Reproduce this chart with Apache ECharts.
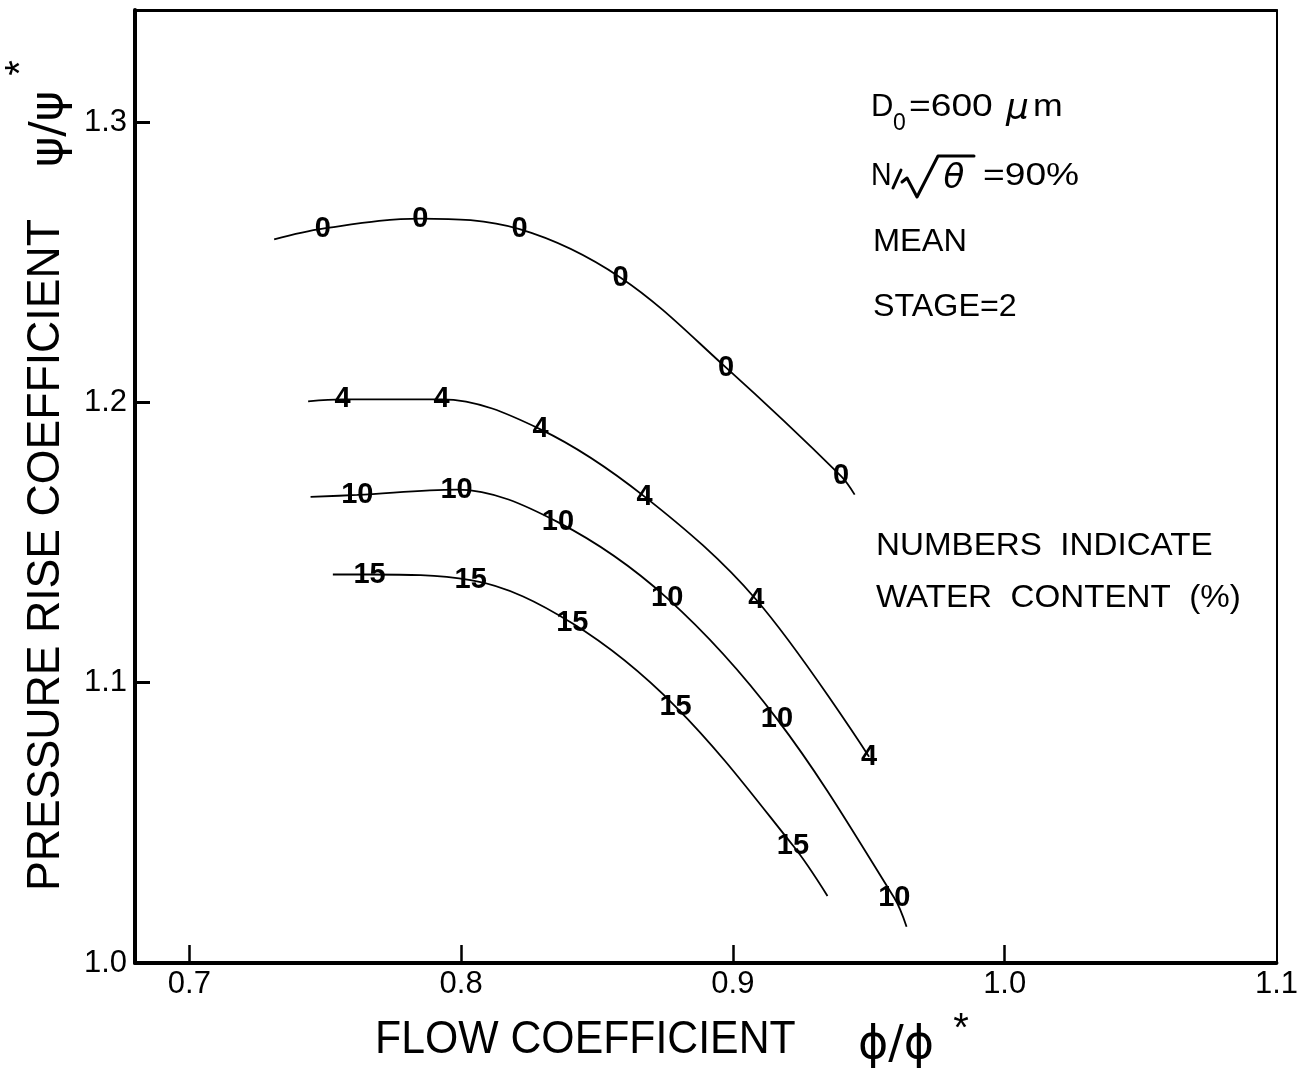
<!DOCTYPE html>
<html>
<head>
<meta charset="utf-8">
<script src="https://cdn.jsdelivr.net/npm/echarts@6/dist/echarts.min.js"></script>
<style>
html,body{margin:0;padding:0;background:#fff;}
#chart{width:1301px;height:1071px;}
</style>
</head>
<body>
<div id="chart"></div>
<script>
// ---- data ----
const xTickValues = [0.7, 0.8, 0.9, 1.0];
const xLabelValues = [0.7, 0.8, 0.9, 1.0, 1.1];
const yTickValues = [1.1, 1.2, 1.3];
const yLabelValues = [1.0, 1.1, 1.2, 1.3];
const waterContents = ['0', '4', '10', '15'];

// measured points (the number labels sit on these)
const points0  = [[0.7491,1.2620],[0.7850,1.2656],[0.8215,1.2618],[0.8587,1.2445],[0.8975,1.2124],[0.9398,1.1737]];
const points4  = [[0.7564,1.2011],[0.7928,1.2011],[0.8292,1.1904],[0.8675,1.1664],[0.9086,1.1296],[0.9501,1.0736]];
const points10 = [[0.7618,1.1670],[0.7983,1.1689],[0.8356,1.1573],[0.8758,1.1302],[0.9162,1.0871],[0.9594,1.0232]];
const points15 = [[0.7663,1.1386],[0.8035,1.1366],[0.8409,1.1212],[0.8789,1.0915],[0.9221,1.0419]];

// where each fitted curve starts and ends
const curveStart = [[0.7312,1.2582],[0.7437,1.2004],[0.7446,1.1663],[0.7528,1.1386]];
const curveEnd   = [[0.9448,1.1671], null, [0.9639,1.0129],[0.9348,1.0239]];

const pointSets = [points0, points4, points10, points15];

const FONT = '"Liberation Sans", Arial, sans-serif';

const series = [];
waterContents.forEach((w, i) => {
  const curve = [curveStart[i]].concat(pointSets[i]);
  if (curveEnd[i]) curve.push(curveEnd[i]);
  series.push({
    type: 'line', name: 'curve ' + w, data: curve, smooth: 0.35,
    showSymbol: false, symbol: 'none', silent: true, z: 2,
    lineStyle: { color: '#000', width: 1.8 }
  });
  series.push({
    type: 'scatter', name: w, data: pointSets[i], symbolSize: 0.5, z: 3, silent: true,
    itemStyle: { color: '#000', opacity: 1 },
    emphasis: { disabled: true },
    label: { show: true, position: 'inside', formatter: w, color: '#000', opacity: 1,
             textBorderWidth: 0, fontSize: 29, fontFamily: FONT, fontWeight: 'bold' }
  });
});

function txt(text, x, y, size, opts) {
  opts = opts || {};
  return {
    type: 'text', x: x, y: y, rotation: opts.rotation || 0,
    scaleX: opts.scaleX || 1, scaleY: 1, z: 10, silent: true,
    style: {
      text: text, fill: '#000',
      font: (opts.italic ? 'italic ' : '') + (opts.weight || 'normal') + ' ' + size + 'px ' + (opts.family || FONT),
      align: opts.align || 'left', verticalAlign: opts.valign || 'middle',
      textAlign: opts.align || 'left', textVerticalAlign: opts.valign || 'middle'
    }
  };
}
function seg(points, w) {
  return { type: 'polyline', z: 10, silent: true, shape: { points: points },
           style: { stroke: '#000', lineWidth: w || 3, fill: null, lineJoin: 'round', lineCap: 'round' } };
}

const graphics = [
  // y axis title
  txt('PRESSURE RISE COEFFICIENT', 46, 555, 46, { rotation: Math.PI / 2, align: 'center', scaleX: 0.97 }),
  txt('\u03C8/\u03C8', 50, 129, 46, { rotation: Math.PI / 2, align: 'center', family: '"DejaVu Sans", sans-serif' }),
  txt('*', 22, 68, 40, { rotation: Math.PI / 2, align: 'center' }),
  // x axis title
  txt('FLOW COEFFICIENT', 375, 1040, 46, { scaleX: 0.93 }),
  txt('\u03D5/\u03D5', 896, 1046, 46, { align: 'center', family: '"DejaVu Sans", sans-serif' }),
  txt('*', 961, 1030, 40, { align: 'center' }),
  // annotations
  txt('D', 871, 107, 31),
  txt('0', 893, 124, 23),
  txt('=600', 909, 107, 31, { scaleX: 1.2 }),
  txt('\u03BC', 1006, 110, 36, { italic: true, family: '"DejaVu Sans", sans-serif' }),
  txt('m', 1033, 107, 31, { scaleX: 1.15 }),
  txt('N', 871, 176, 31, { scaleX: 0.92 }),
  seg([[893, 188], [901, 170]], 3),
  seg([[902, 182], [907, 178], [917, 197], [938, 156], [974, 156]], 3),
  txt('\u03B8', 954, 179, 34, { italic: true, align: 'center', family: '"DejaVu Sans", sans-serif' }),
  txt('=90%', 983, 176, 31, { scaleX: 1.2 }),
  txt('MEAN', 873, 242, 31, { scaleX: 1.05 }),
  txt('STAGE=2', 873, 307, 31, { scaleX: 1.04 }),
  txt('NUMBERS  INDICATE', 876, 546, 31, { scaleX: 1.07 }),
  txt('WATER  CONTENT  (%)', 876, 598, 31, { scaleX: 1.07 })
];

const chart = echarts.init(document.getElementById('chart'), null, { renderer: 'canvas' });
chart.setOption({
  backgroundColor: '#fff',
  animation: false,
  grid: { left: 135, right: 14, top: 10, bottom: 108, containLabel: false },
  xAxis: [{
    type: 'value', min: 0.68, max: 1.1, position: 'bottom',
    axisLine: { show: true, onZero: false, lineStyle: { color: '#000', width: 4 } },
    axisTick: { show: true, inside: true, length: 18, customValues: xTickValues, lineStyle: { color: '#000', width: 2.5 } },
    axisLabel: { show: true, customValues: xLabelValues, formatter: v => v.toFixed(1),
                 color: '#000', fontSize: 31, fontFamily: FONT, margin: 6 },
    splitLine: { show: false }
  }, {
    type: 'value', min: 0.68, max: 1.1, position: 'top',
    axisLine: { show: true, onZero: false, lineStyle: { color: '#000', width: 3 } },
    axisTick: { show: false }, axisLabel: { show: false }, splitLine: { show: false }
  }],
  yAxis: [{
    type: 'value', min: 1.0, max: 1.34, position: 'left',
    axisLine: { show: true, onZero: false, lineStyle: { color: '#000', width: 4 } },
    axisTick: { show: true, inside: true, length: 15, customValues: yTickValues, lineStyle: { color: '#000', width: 3 } },
    axisLabel: { show: true, customValues: yLabelValues, formatter: v => v.toFixed(1),
                 color: '#000', fontSize: 31, fontFamily: FONT, margin: 8 },
    splitLine: { show: false }
  }, {
    type: 'value', min: 1.0, max: 1.34, position: 'right',
    axisLine: { show: true, onZero: false, lineStyle: { color: '#000', width: 2 } },
    axisTick: { show: false }, axisLabel: { show: false }, splitLine: { show: false }
  }],
  series: series,
  graphic: graphics
});
</script>
</body>
</html>
